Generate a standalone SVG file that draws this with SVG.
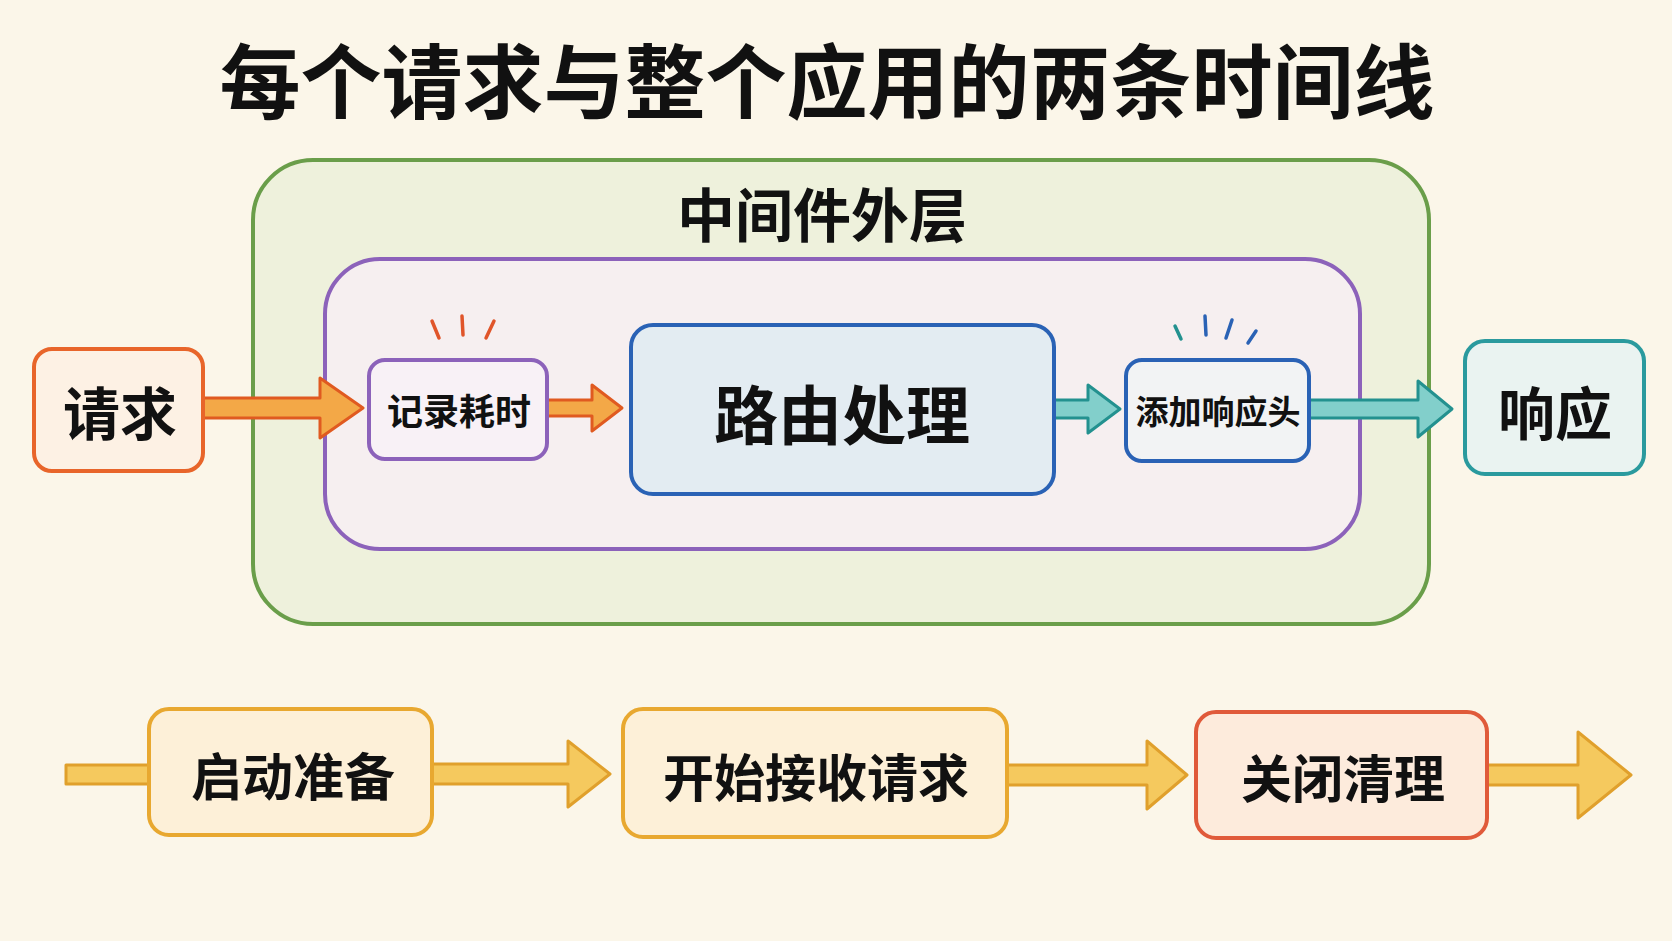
<svg xmlns="http://www.w3.org/2000/svg" width="1672" height="941" viewBox="0 0 1672 941">
<defs>
<style>
text{font-family:"Noto Sans CJK SC","Noto Sans",sans-serif;font-weight:700;fill:#111;text-anchor:middle;dominant-baseline:central}
.box{stroke-width:4}
.tick{stroke-width:3.5;stroke-linecap:round;fill:none}
.arrO{fill:#f3a847;stroke:#e05a20;stroke-width:3;stroke-linejoin:round}
.arrT{fill:#82cfcb;stroke:#23918f;stroke-width:3;stroke-linejoin:round}
.arrY{fill:#f5c95e;stroke:#e0a02c;stroke-width:3;stroke-linejoin:round}
</style>
</defs>
<rect width="1672" height="941" fill="#fbf6e9"/>
<text x="827" y="76" font-size="81" font-weight="900">每个请求与整个应用的两条时间线</text>

<g id="middleware-outer">
<rect x="253" y="160" width="1176" height="464" rx="60" fill="#eef1dc" stroke="#6a9e4a" class="box"/>
<text x="822" y="212" font-size="58">中间件外层</text>
</g>
<g id="inner-layer">
<rect x="325" y="259" width="1035" height="290" rx="55" fill="#f6eff0" stroke="#8c62ba" class="box"/>
</g>

<g id="connectors">
<polygon class="arrO" points="203,398 320,398 320,378 363,408 320,438 320,418 203,418"/>
<polygon class="arrO" points="547,400 592,400 592,385 622,408 592,431 592,416 547,416"/>
<polygon class="arrT" points="1054,400 1088,400 1088,385 1120,409 1088,433 1088,418 1054,418"/>
<polygon class="arrT" points="1309,400 1418,400 1418,381 1452,409 1418,437 1418,418 1309,418"/>
<polygon class="arrY" points="66,765 149,765 149,784 66,784"/>
<polygon class="arrY" points="432,764 568,764 568,741 610,774 568,807 568,784 432,784"/>
<polygon class="arrY" points="1007,765 1147,765 1147,741 1187,775 1147,809 1147,785 1007,785"/>
<polygon class="arrY" points="1487,765 1578,765 1578,732 1631,775 1578,818 1578,785 1487,785"/>
</g>

<g id="request">
<rect x="34" y="349" width="169" height="122" rx="18" fill="#fdf1e4" stroke="#e8652a" class="box"/>
<text x="120" y="410" font-size="57">请求</text>
</g>
<g id="log-time">
<rect x="369" y="360" width="178" height="99" rx="16" fill="#f8f1f6" stroke="#8c62ba" class="box"/>
<text x="459" y="409" font-size="36">记录耗时</text>
<g stroke="#e0552a" class="tick">
<line x1="432" y1="321" x2="439" y2="338"/>
<line x1="462" y1="316" x2="463" y2="335"/>
<line x1="494" y1="321" x2="486" y2="338"/>
</g>
</g>
<g id="route">
<rect x="631" y="325" width="423" height="169" rx="22" fill="#e3ecf2" stroke="#2a62b5" class="box"/>
<text x="842" y="411" font-size="64">路由处理</text>
</g>
<g id="add-header">
<rect x="1126" y="360" width="183" height="101" rx="16" fill="#f2f3f4" stroke="#2a62b5" class="box"/>
<text x="1218" y="410" font-size="33">添加响应头</text>
<g class="tick">
<line x1="1175" y1="326" x2="1181" y2="339" stroke="#23918f"/>
<line x1="1205" y1="316" x2="1206" y2="335" stroke="#2a62b5"/>
<line x1="1232" y1="320" x2="1226" y2="338" stroke="#2a62b5"/>
<line x1="1256" y1="331" x2="1248" y2="343" stroke="#2a62b5"/>
</g>
</g>
<g id="response">
<rect x="1465" y="341" width="179" height="133" rx="20" fill="#eaf3f1" stroke="#2a9a9e" class="box"/>
<text x="1555" y="410" font-size="57">响应</text>
</g>

<g id="startup">
<rect x="149" y="709" width="283" height="126" rx="20" fill="#fdf0d8" stroke="#e8a830" class="box"/>
<text x="293" y="774" font-size="51">启动准备</text>
</g>
<g id="serving">
<rect x="623" y="709" width="384" height="128" rx="20" fill="#fdf0d8" stroke="#e8a830" class="box"/>
<text x="816" y="775" font-size="51">开始接收请求</text>
</g>
<g id="shutdown">
<rect x="1196" y="712" width="291" height="126" rx="20" fill="#fdebdc" stroke="#e05a3a" class="box"/>
<text x="1343" y="776" font-size="51">关闭清理</text>
</g>
</svg>
